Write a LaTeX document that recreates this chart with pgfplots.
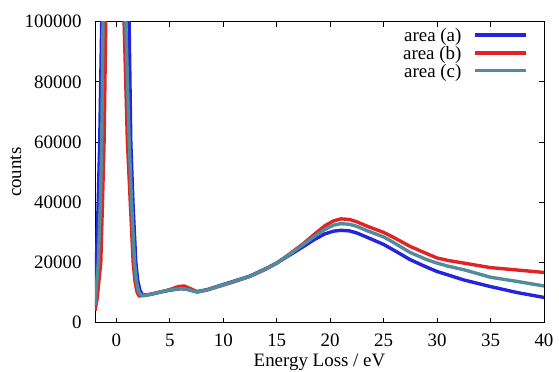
\documentclass[border=0pt]{standalone}
\usepackage{pgfplots}
\pgfplotsset{compat=1.18}
\usepackage{fontspec}
\setmainfont{Liberation Serif}
\definecolor{ca}{RGB}{35,35,225}
\definecolor{cb}{RGB}{225,35,35}
\definecolor{cc}{RGB}{80,140,155}
\begin{document}
\fontsize{19}{21}\selectfont
\begin{tikzpicture}
\useasboundingbox (-95bp,-49.3bp) rectangle (464bp,322.7bp);
\begin{axis}[
  at={(0,0)}, anchor=south west,
  scale only axis, width=449bp, height=301bp,
  xmin=-2, xmax=40, ymin=0, ymax=100000,
  xtick={0,5,...,40}, ytick={0,20000,40000,60000,80000,100000},
  scaled y ticks=false,
  tick align=inside, major tick length=5bp,
  axis line style={line width=0.8pt},
  every tick/.style={black, line width=0.8pt},
  /pgf/number format/assume math mode=true,
  /pgf/number format/fixed,
  /pgf/number format/precision=0,
  /pgf/number format/set thousands separator={},
  font=\fontsize{19}{21}\selectfont,
  yticklabel style={xshift=-7bp},
  xticklabel style={anchor=base, yshift=-24bp},
  xlabel={Energy Loss / eV}, ylabel={counts},
  xlabel style={at={(axis description cs:0.5,-0.146)}, anchor=base},
  ylabel style={at={(axis description cs:-0.176,0.5)}, anchor=center},
  legend plot pos=right,
  legend cell align=right,
  legend style={draw=none, fill=none, inner sep=0pt, nodes={inner sep=0pt},
    at={(axis description cs:1,1)}, anchor=north east, xshift=-16bp, yshift=-6.8bp,
    row sep=1.7bp},
  legend image code/.code={\path (0bp,-3bp) (0bp,3bp); \draw[#1] (12bp,1.5bp) -- (63bp,1.5bp);},
]
\addplot[ca, line width=3.4pt] coordinates {
(-2,13000) (-1.87,20000) (-1.7,40000) (-1.56,60000) (-1.37,100000) (-1.25,150000) (0,500000)
(1.05,150000) (1.19,100000) (1.35,60000) (1.55,40000) (1.82,20000) (2.0,14000) (2.2,10800)
(2.44,9300) (2.8,9200) (3.3,9500)
(4,10100) (5,10800) (6,11300) (6.5,11200) (7.5,10300) (8.5,11000)
(10,12700) (11,13800) (12.5,15500) (14,18000) (15,19800) (16,22000) (17.5,25300)
(18.5,27600) (19.5,29500) (20.3,30400) (21,30700) (21.8,30500) (22.5,29800) (23.5,28300) (25,26000)
(26,24000) (27.5,20900) (29,18500) (30,17000) (31,15900) (32.5,14200) (35,12000) (37.5,10000) (40,8400)
};
\addlegendentry{area (a)}
\addplot[cb, line width=3.4pt] coordinates {
(-2,4000) (-1.8,8000) (-1.46,20000) (-1.3,40000) (-1.15,60000) (-0.99,100000) (-0.85,150000) (0.2,500000)
(0.6,150000) (0.72,100000) (1.03,60000) (1.3,40000) (1.57,20000) (1.75,13500) (1.95,10000) (2.13,8900) (2.6,9000)
(3.2,9500) (4,10100) (5,11000) (5.8,12000) (6.35,12200) (7,11200) (7.6,10200) (8.5,10900)
(10,12500) (11,13600) (12.5,15400) (14,17800) (15,19800) (16,22300) (17.5,26300)
(18.5,29300) (19.5,32200) (20.3,33800) (21,34500) (21.8,34300) (22.5,33500) (23.5,32000) (25,30000) (26,28200)
(27.5,25300) (29,23000) (30,21500) (31,20700) (32.5,19800) (35,18300) (37.5,17500) (40,16700)
};
\addlegendentry{area (b)}
\addplot[cc, line width=3.4pt] coordinates {
(-2,5900) (-1.69,20000) (-1.5,40000) (-1.37,60000) (-1.25,100000) (-1.1,150000) (0.1,500000)
(0.75,150000) (0.88,100000) (1.2,60000) (1.42,40000) (1.7,20000) (1.88,13500) (2.08,10300) (2.3,9200) (2.7,9100)
(3.3,9500) (4,10100) (5,10900) (6,11300) (6.5,11200) (7.5,10200) (8.5,10900)
(10,12600) (11,13700) (12.5,15400) (14,17900) (15,19800) (16,22200) (17.5,26000)
(18.5,28600) (19.5,31000) (20.3,32400) (21,32900) (21.8,32700) (22.5,32000) (23.5,30500) (25,28500) (26,26500)
(27.5,23300) (29,21000) (30,19800) (31,18800) (32.5,17600) (35,15100) (37.5,13700) (40,12200)
};
\addlegendentry{area (c)}
\end{axis}
\end{tikzpicture}
\end{document}
